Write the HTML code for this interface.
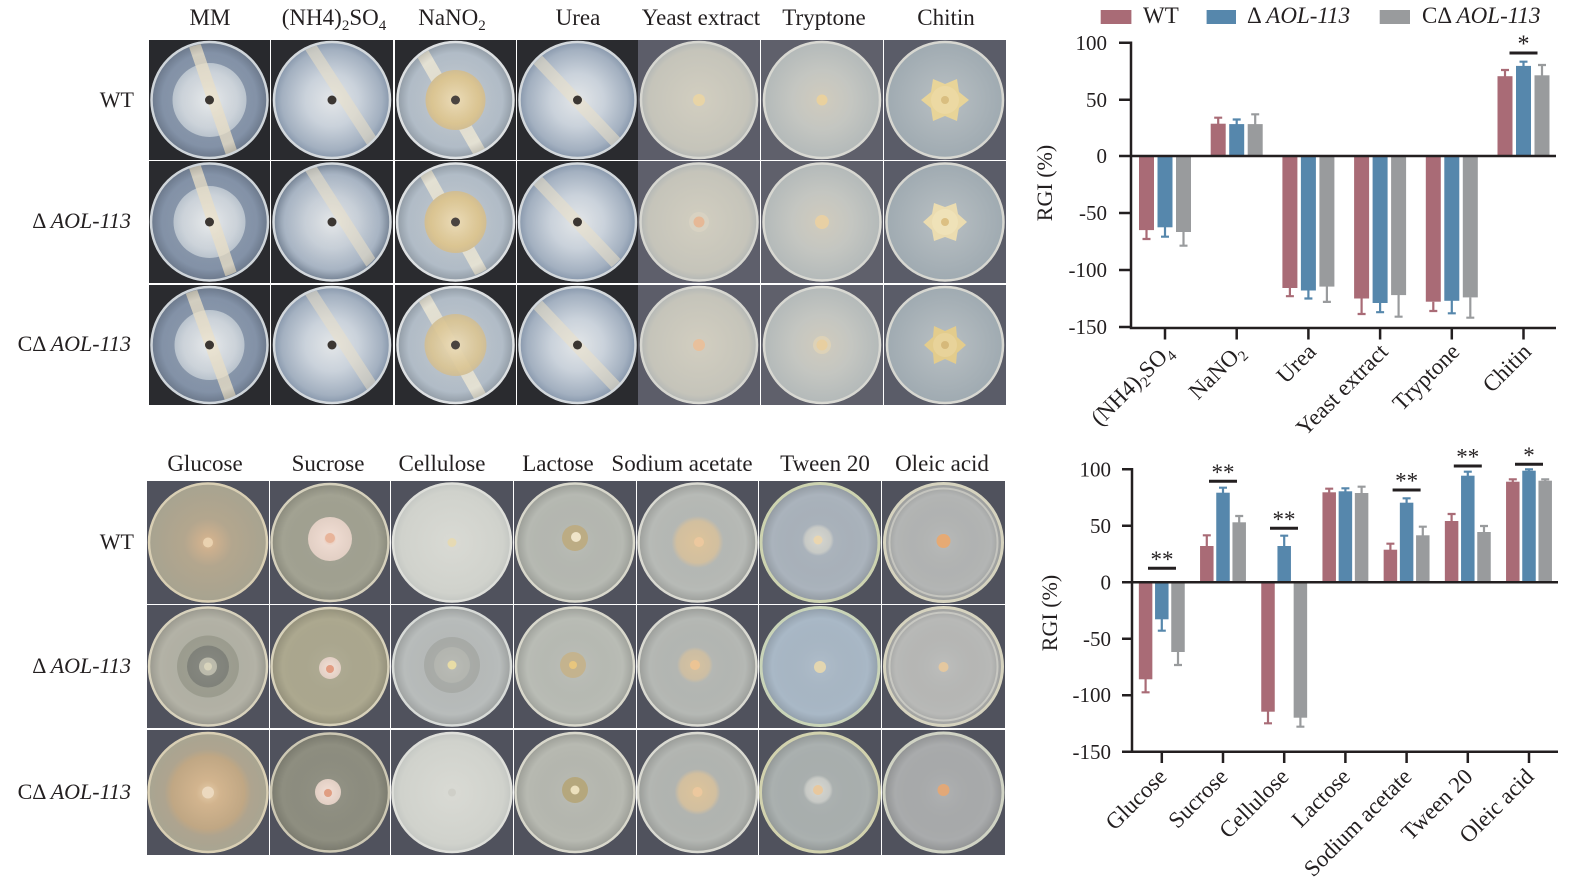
<!DOCTYPE html>
<html><head><meta charset="utf-8"><style>
html,body{margin:0;padding:0;background:#fff;}
svg{display:block;}
text{font-family:"Liberation Serif","DejaVu Serif",serif;fill:#231f20;}
</style></head><body>
<svg width="1569" height="893" viewBox="0 0 1569 893" xmlns="http://www.w3.org/2000/svg">
<defs>
<clipPath id="cp"><circle cx="60.5" cy="60.5" r="57"/></clipPath>
<radialGradient id="wcol"><stop offset="0" stop-color="#e6e9eb"/><stop offset=".75" stop-color="#cfd6dd"/><stop offset="1" stop-color="#bcc6d0"/></radialGradient>
<radialGradient id="bfull"><stop offset="0" stop-color="#e3e6e8"/><stop offset=".45" stop-color="#cad2db"/><stop offset=".85" stop-color="#a3b0c0"/><stop offset="1" stop-color="#8595aa"/></radialGradient>
<radialGradient id="mmag"><stop offset="0" stop-color="#9aa8ba"/><stop offset="1" stop-color="#7d8ca2"/></radialGradient>
<radialGradient id="naag"><stop offset="0" stop-color="#ccd3d9"/><stop offset="1" stop-color="#aab6c2"/></radialGradient>
<radialGradient id="nacol"><stop offset="0" stop-color="#ead9b2"/><stop offset=".8" stop-color="#dec792"/><stop offset="1" stop-color="#d4c095"/></radialGradient>
<radialGradient id="yeast"><stop offset="0" stop-color="#d2cec0"/><stop offset=".85" stop-color="#c5c4ba"/><stop offset="1" stop-color="#b2b6b5"/></radialGradient>
<radialGradient id="tryp"><stop offset="0" stop-color="#d0cbbd"/><stop offset=".5" stop-color="#c4c6c1"/><stop offset="1" stop-color="#b3b9b9"/></radialGradient>
<radialGradient id="chag"><stop offset="0" stop-color="#b9c0c3"/><stop offset="1" stop-color="#9faab1"/></radialGradient>
<radialGradient id="vig"><stop offset="0" stop-color="#fff" stop-opacity=".08"/><stop offset=".8" stop-color="#000" stop-opacity="0"/><stop offset="1" stop-color="#000" stop-opacity=".16"/></radialGradient>
<radialGradient id="gl0"><stop offset="0" stop-color="#dcbc96"/><stop offset=".12" stop-color="#cdb08e"/><stop offset=".4" stop-color="#b3a68e"/><stop offset="1" stop-color="#a7a390"/></radialGradient>
<radialGradient id="gl2"><stop offset="0" stop-color="#e4cba8"/><stop offset=".2" stop-color="#d2b48e"/><stop offset=".6" stop-color="#c0a784"/><stop offset=".72" stop-color="#aea48f"/><stop offset="1" stop-color="#a8a592"/></radialGradient>
<radialGradient id="cel"><stop offset="0" stop-color="#d9dad4"/><stop offset=".85" stop-color="#d0d2cc"/><stop offset="1" stop-color="#c3c6c2"/></radialGradient>
<radialGradient id="soft"><stop offset="0" stop-color="#dcc39b"/><stop offset=".8" stop-color="#d2bf9f"/><stop offset="1" stop-color="#d2bf9f" stop-opacity="0"/></radialGradient>
<radialGradient id="softg"><stop offset="0" stop-color="#d6d6cf"/><stop offset=".8" stop-color="#c8cac6"/><stop offset="1" stop-color="#c8cac6" stop-opacity="0"/></radialGradient>
<radialGradient id="pink"><stop offset="0" stop-color="#e9b9a2"/><stop offset=".3" stop-color="#eddad0"/><stop offset="1" stop-color="#e2cfc4"/></radialGradient>
</defs>

<!-- ===== Headers top ===== -->
<g font-size="23" text-anchor="middle">
<text x="210" y="25">MM</text>
<text x="334" y="25">(NH4)<tspan font-size="15" dy="5">2</tspan><tspan dy="-5">SO</tspan><tspan font-size="15" dy="5">4</tspan></text>
<text x="452" y="25">NaNO<tspan font-size="15" dy="5">2</tspan></text>
<text x="578" y="25">Urea</text>
<text x="701" y="25">Yeast extract</text>
<text x="824" y="25">Tryptone</text>
<text x="946" y="25">Chitin</text>
<text x="205" y="471">Glucose</text>
<text x="328" y="471">Sucrose</text>
<text x="442" y="471">Cellulose</text>
<text x="558" y="471">Lactose</text>
<text x="682" y="471">Sodium acetate</text>
<text x="825" y="471">Tween 20</text>
<text x="942" y="471">Oleic acid</text>
</g>
<g font-size="22" text-anchor="end">
<text x="134" y="107">WT</text>
<text x="131" y="228">Δ <tspan font-style="italic">AOL-113</tspan></text>
<text x="131" y="351">CΔ <tspan font-style="italic">AOL-113</tspan></text>
<text x="134" y="549">WT</text>
<text x="131" y="673">Δ <tspan font-style="italic">AOL-113</tspan></text>
<text x="131" y="799">CΔ <tspan font-style="italic">AOL-113</tspan></text>
</g>

<!-- ===== Top grid ===== -->
<g transform="translate(149,40)"><rect width="121" height="120" fill="#28292d"/><circle cx="60.5" cy="60" r="59" fill="url(#mmag)"/><circle cx="60.5" cy="60" r="37" fill="url(#wcol)"/><line x1="44" y1="0" x2="85" y2="120" stroke="#ece2c8" stroke-width="12" opacity=".75" clip-path="url(#cp)"/><circle cx="60.5" cy="60" r="59" fill="url(#vig)"/><circle cx="60.5" cy="60" r="58" fill="none" stroke="#cfd5da" stroke-width="2.5"/><circle cx="60.5" cy="60" r="4.5" fill="#3b3632"/></g>
<g transform="translate(149,161)"><rect width="121" height="122" fill="#2a2b2f"/><circle cx="60.5" cy="61" r="59.5" fill="url(#mmag)"/><circle cx="60.5" cy="61" r="36" fill="url(#wcol)"/><line x1="44" y1="0" x2="85" y2="122" stroke="#ece2c8" stroke-width="12" opacity=".75" clip-path="url(#cp)"/><circle cx="60.5" cy="61" r="59.5" fill="url(#vig)"/><circle cx="60.5" cy="61" r="58.5" fill="none" stroke="#cfd5da" stroke-width="2.5"/><circle cx="60.5" cy="61" r="4.5" fill="#3b3632"/></g>
<g transform="translate(149,285)"><rect width="121" height="120" fill="#2a2b2f"/><circle cx="60.5" cy="60" r="59" fill="url(#mmag)"/><circle cx="60.5" cy="60" r="35" fill="url(#wcol)"/><line x1="40" y1="0" x2="84" y2="120" stroke="#ece2c8" stroke-width="12" opacity=".75" clip-path="url(#cp)"/><circle cx="60.5" cy="60" r="59" fill="url(#vig)"/><circle cx="60.5" cy="60" r="58" fill="none" stroke="#cfd5da" stroke-width="2.5"/><circle cx="60.5" cy="60" r="4.5" fill="#3b3632"/></g>
<g transform="translate(271,40)"><rect width="122" height="120" fill="#2a2b2f"/><circle cx="61" cy="60" r="59" fill="url(#bfull)"/><line x1="35" y1="0" x2="113" y2="120" stroke="#ebe0c6" stroke-width="12" opacity=".55" clip-path="url(#cp)"/><circle cx="61" cy="60" r="58" fill="none" stroke="#d3d8dc" stroke-width="2.5"/><circle cx="61" cy="60" r="4.5" fill="#3b3632"/></g>
<g transform="translate(271,161)"><rect width="122" height="122" fill="#2a2b2f"/><circle cx="61" cy="61" r="59.5" fill="url(#bfull)"/><circle cx="61" cy="61" r="59.5" fill="url(#vig)"/><line x1="35" y1="0" x2="113" y2="122" stroke="#ebe0c6" stroke-width="12" opacity=".55" clip-path="url(#cp)"/><circle cx="61" cy="61" r="58.5" fill="none" stroke="#d3d8dc" stroke-width="2.5"/><circle cx="61" cy="61" r="4.5" fill="#3b3632"/></g>
<g transform="translate(271,285)"><rect width="122" height="120" fill="#2a2b2f"/><circle cx="61" cy="60" r="59" fill="url(#bfull)"/><line x1="35" y1="0" x2="113" y2="120" stroke="#ebe0c6" stroke-width="12" opacity=".5" clip-path="url(#cp)"/><circle cx="61" cy="60" r="58" fill="none" stroke="#d3d8dc" stroke-width="2.5"/><circle cx="61" cy="60" r="4.5" fill="#3b3632"/></g>
<g transform="translate(395,40)"><rect width="121" height="120" fill="#2a2b2f"/><circle cx="60.5" cy="60" r="59" fill="url(#naag)"/><line x1="20" y1="0" x2="89" y2="120" stroke="#f1ead6" stroke-width="13" opacity=".8" clip-path="url(#cp)"/><circle cx="60.5" cy="60" r="30" fill="url(#nacol)"/><circle cx="60.5" cy="60" r="59" fill="url(#vig)"/><circle cx="60.5" cy="60" r="58" fill="none" stroke="#dde0e2" stroke-width="2.5"/><circle cx="60.5" cy="60" r="4.5" fill="#4a4440"/></g>
<g transform="translate(395,161)"><rect width="121" height="122" fill="#2a2b2f"/><circle cx="60.5" cy="61" r="59.5" fill="url(#naag)"/><line x1="24" y1="0" x2="92" y2="122" stroke="#f1ead6" stroke-width="13" opacity=".8" clip-path="url(#cp)"/><circle cx="60.5" cy="61" r="31" fill="url(#nacol)"/><circle cx="60.5" cy="61" r="59.5" fill="url(#vig)"/><circle cx="60.5" cy="61" r="58.5" fill="none" stroke="#dde0e2" stroke-width="2.5"/><circle cx="60.5" cy="61" r="4.5" fill="#4a4440"/></g>
<g transform="translate(395,285)"><rect width="121" height="120" fill="#2a2b2f"/><circle cx="60.5" cy="60" r="59" fill="url(#naag)"/><line x1="22" y1="0" x2="90" y2="120" stroke="#f1ead6" stroke-width="13" opacity=".8" clip-path="url(#cp)"/><circle cx="60.5" cy="60" r="31" fill="url(#nacol)" opacity=".9"/><circle cx="60.5" cy="60" r="59" fill="url(#vig)"/><circle cx="60.5" cy="60" r="58" fill="none" stroke="#dde0e2" stroke-width="2.5"/><circle cx="60.5" cy="60" r="4.5" fill="#4a4440"/></g>
<g transform="translate(517,40)"><rect width="121" height="120" fill="#2a2b2f"/><circle cx="60.5" cy="60" r="59" fill="url(#bfull)"/><line x1="2" y1="0" x2="116" y2="120" stroke="#ebe0c6" stroke-width="12" opacity=".55" clip-path="url(#cp)"/><circle cx="60.5" cy="60" r="58" fill="none" stroke="#d3d8dc" stroke-width="2.5"/><circle cx="60.5" cy="60" r="4.5" fill="#3b3632"/></g>
<g transform="translate(517,161)"><rect width="121" height="122" fill="#2a2b2f"/><circle cx="60.5" cy="61" r="59.5" fill="url(#bfull)"/><line x1="2" y1="0" x2="118" y2="122" stroke="#ebe0c6" stroke-width="12" opacity=".55" clip-path="url(#cp)"/><circle cx="60.5" cy="61" r="58.5" fill="none" stroke="#d3d8dc" stroke-width="2.5"/><circle cx="60.5" cy="61" r="4.5" fill="#3b3632"/></g>
<g transform="translate(517,285)"><rect width="121" height="120" fill="#2a2b2f"/><circle cx="60.5" cy="60" r="59" fill="url(#bfull)"/><line x1="2" y1="0" x2="116" y2="120" stroke="#ebe0c6" stroke-width="12" opacity=".55" clip-path="url(#cp)"/><circle cx="60.5" cy="60" r="58" fill="none" stroke="#d3d8dc" stroke-width="2.5"/><circle cx="60.5" cy="60" r="4.5" fill="#3b3632"/></g>
<g transform="translate(638,40)"><rect width="122" height="120" fill="#5c5d69"/><circle cx="61" cy="60" r="59" fill="url(#yeast)"/><circle cx="61" cy="60" r="58" fill="none" stroke="#d6d6d0" stroke-width="2.5"/><circle cx="61" cy="60" r="6" fill="#e8d4a6"/></g>
<g transform="translate(638,161)"><rect width="122" height="122" fill="#5e5f6b"/><circle cx="61" cy="61" r="59.5" fill="url(#yeast)"/><circle cx="61" cy="61" r="10" fill="#d8d2c2"/><circle cx="61" cy="61" r="58.5" fill="none" stroke="#d6d6d0" stroke-width="2.5"/><circle cx="61" cy="61" r="5.5" fill="#e6b896"/></g>
<g transform="translate(638,285)"><rect width="122" height="120" fill="#5c5d69"/><circle cx="61" cy="60" r="59" fill="url(#yeast)"/><circle cx="61" cy="60" r="58" fill="none" stroke="#d6d6d0" stroke-width="2.5"/><circle cx="61" cy="60" r="6" fill="#e8c09c"/></g>
<g transform="translate(761,40)"><rect width="122" height="120" fill="#5f606b"/><circle cx="61" cy="60" r="59" fill="url(#tryp)"/><circle cx="61" cy="60" r="58" fill="none" stroke="#d8d8d2" stroke-width="2.5"/><circle cx="61" cy="60" r="5.5" fill="#e9d19e"/></g>
<g transform="translate(761,161)"><rect width="122" height="122" fill="#5f606b"/><circle cx="61" cy="61" r="59.5" fill="url(#tryp)"/><circle cx="61" cy="61" r="58.5" fill="none" stroke="#d8d8d2" stroke-width="2.5"/><circle cx="61" cy="61" r="7" fill="#e8d0a4"/></g>
<g transform="translate(761,285)"><rect width="122" height="120" fill="#5f606b"/><circle cx="61" cy="60" r="59" fill="url(#tryp)"/><circle cx="61" cy="60" r="9" fill="#ddd2b8"/><circle cx="61" cy="60" r="58" fill="none" stroke="#d8d8d2" stroke-width="2.5"/><circle cx="61" cy="60" r="5.5" fill="#e8cfa0"/></g>
<g transform="translate(884,40)"><rect width="122" height="120" fill="#5a5c68"/><circle cx="61" cy="60" r="59" fill="url(#chag)"/><polygon transform="translate(61,60)" points="24,0 14,8 12,21 0,16 -12,21 -14,8 -24,0 -14,-8 -12,-21 0,-16 12,-21 14,-8" fill="#e8d498"/><circle cx="61" cy="60" r="14" fill="#ecd9a3"/><circle cx="61" cy="60" r="58" fill="none" stroke="#d7d7d1" stroke-width="2.5"/><circle cx="61" cy="60" r="4" fill="#d9be80"/></g>
<g transform="translate(884,161)"><rect width="122" height="122" fill="#5a5c68"/><circle cx="61" cy="61" r="59.5" fill="url(#chag)"/><polygon transform="translate(61,61)" points="22,0 13,8 11,19 0,15 -11,19 -13,8 -22,0 -13,-8 -11,-19 0,-15 11,-19 13,-8" fill="#ebdcb0"/><circle cx="61" cy="61" r="13" fill="#efe2b8"/><circle cx="61" cy="61" r="58.5" fill="none" stroke="#d7d7d1" stroke-width="2.5"/><circle cx="61" cy="61" r="4" fill="#dcc083"/></g>
<g transform="translate(884,285)"><rect width="122" height="120" fill="#5a5c68"/><circle cx="61" cy="60" r="59" fill="url(#chag)"/><polygon transform="translate(61,60)" points="21,0 12,8 11,19 0,14 -11,19 -12,8 -21,0 -12,-8 -11,-19 0,-14 11,-19 12,-8" fill="#e3cc8c"/><circle cx="61" cy="60" r="12" fill="#e8d39a"/><circle cx="61" cy="60" r="58" fill="none" stroke="#d7d7d1" stroke-width="2.5"/><circle cx="61" cy="60" r="4" fill="#d6b97a"/></g>

<!-- ===== Bottom grid ===== -->
<g transform="translate(147,481)"><rect width="122" height="123" fill="#50525d"/><circle cx="61" cy="61.5" r="60" fill="url(#gl0)"/><circle cx="61" cy="61.5" r="59" fill="none" stroke="#d9cfb4" stroke-width="2.5"/><circle cx="61" cy="61.5" r="5" fill="#ead2b0"/></g>
<g transform="translate(147,605)"><rect width="122" height="123" fill="#50525d"/><circle cx="61" cy="61.5" r="60" fill="#b3b2a6"/><circle cx="61" cy="61.5" r="31" fill="#9d9e90"/><circle cx="61" cy="61.5" r="21" fill="#7f8179"/><circle cx="61" cy="61.5" r="9" fill="#b9b8a8"/><circle cx="61" cy="61.5" r="60" fill="url(#vig)"/><circle cx="61" cy="61.5" r="59" fill="none" stroke="#d8d2bd" stroke-width="2.5"/><circle cx="61" cy="61.5" r="4" fill="#d8d4bc"/></g>
<g transform="translate(147,730)"><rect width="122" height="125" fill="#50525d"/><circle cx="61" cy="62.5" r="60.5" fill="url(#gl2)"/><circle cx="61" cy="62.5" r="59.5" fill="none" stroke="#d9cfb4" stroke-width="2.5"/><circle cx="61" cy="62.5" r="6" fill="#ecd9bf"/></g>
<g transform="translate(270,481)"><rect width="120" height="123" fill="#50525d"/><circle cx="60" cy="61.5" r="59.5" fill="#a2a292"/><circle cx="60" cy="61.5" r="59.5" fill="url(#vig)"/><circle cx="60" cy="58" r="22" fill="url(#pink)"/><circle cx="60" cy="61.5" r="58.5" fill="none" stroke="#d6d1bd" stroke-width="2.5"/><circle cx="60" cy="57" r="5" fill="#e8b49a"/></g>
<g transform="translate(270,605)"><rect width="120" height="123" fill="#50525d"/><circle cx="60" cy="61.5" r="59.5" fill="#aca88f"/><circle cx="60" cy="61.5" r="59.5" fill="url(#vig)"/><circle cx="60" cy="63" r="11" fill="url(#pink)"/><circle cx="60" cy="61.5" r="58.5" fill="none" stroke="#d8d2bb" stroke-width="2.5"/><circle cx="60" cy="64" r="4" fill="#e29c82"/></g>
<g transform="translate(270,730)"><rect width="120" height="125" fill="#50525d"/><circle cx="60" cy="62.5" r="60" fill="#8e8e80"/><circle cx="60" cy="62.5" r="60" fill="url(#vig)"/><circle cx="58" cy="62" r="13" fill="url(#pink)"/><circle cx="60" cy="62.5" r="59" fill="none" stroke="#cdc8b4" stroke-width="2.5"/><circle cx="58" cy="63" r="4" fill="#e09e82"/></g>
<g transform="translate(391,481)"><rect width="122" height="123" fill="#50525d"/><circle cx="61" cy="61.5" r="60" fill="url(#cel)"/><circle cx="61" cy="61.5" r="59" fill="none" stroke="#dedfda" stroke-width="2.5"/><circle cx="61" cy="61.5" r="4.5" fill="#e6dab4"/></g>
<g transform="translate(391,605)"><rect width="122" height="123" fill="#50525d"/><circle cx="61" cy="61.5" r="60" fill="#b8bcbb"/><circle cx="61" cy="60" r="28" fill="#a9aca8"/><circle cx="61" cy="60" r="18" fill="#b4b6b0"/><circle cx="61" cy="61.5" r="60" fill="url(#vig)"/><circle cx="61" cy="61.5" r="59" fill="none" stroke="#d8dbd8" stroke-width="2.5"/><circle cx="61" cy="60" r="4.5" fill="#e8dca6"/></g>
<g transform="translate(391,730)"><rect width="122" height="125" fill="#50525d"/><circle cx="61" cy="62.5" r="60.5" fill="url(#cel)"/><circle cx="61" cy="62.5" r="59.5" fill="none" stroke="#dedfda" stroke-width="2.5"/><circle cx="61" cy="62.5" r="4" fill="#cfcfc8"/></g>
<g transform="translate(514,481)"><rect width="122" height="123" fill="#50525d"/><circle cx="61" cy="61.5" r="60" fill="#b6b9b2"/><circle cx="61" cy="61.5" r="60" fill="url(#vig)"/><circle cx="61" cy="57" r="13" fill="#bcac84"/><circle cx="61" cy="61.5" r="59" fill="none" stroke="#d9d8cc" stroke-width="2.5"/><circle cx="62" cy="56" r="5" fill="#efe4c8"/></g>
<g transform="translate(514,605)"><rect width="122" height="123" fill="#50525d"/><circle cx="61" cy="61.5" r="60" fill="#b9bcb5"/><circle cx="61" cy="61.5" r="60" fill="url(#vig)"/><circle cx="59" cy="60" r="13" fill="#c4b38e"/><circle cx="61" cy="61.5" r="59" fill="none" stroke="#d9d8cc" stroke-width="2.5"/><circle cx="59" cy="60" r="4" fill="#e8c67e"/></g>
<g transform="translate(514,730)"><rect width="122" height="125" fill="#50525d"/><circle cx="61" cy="62.5" r="60.5" fill="#b7b9b1"/><circle cx="61" cy="62.5" r="60.5" fill="url(#vig)"/><circle cx="61" cy="60" r="13" fill="#b5a77d"/><circle cx="61" cy="62.5" r="59.5" fill="none" stroke="#d9d8cc" stroke-width="2.5"/><circle cx="61" cy="60" r="4.5" fill="#ece0bd"/></g>
<g transform="translate(637,481)"><rect width="121" height="123" fill="#50525d"/><circle cx="60.5" cy="61.5" r="60" fill="#b7bab6"/><circle cx="60.5" cy="61.5" r="60" fill="url(#vig)"/><circle cx="60.5" cy="61" r="26" fill="url(#soft)"/><circle cx="60.5" cy="61.5" r="59" fill="none" stroke="#dadad2" stroke-width="2.5"/><circle cx="62" cy="61" r="5" fill="#ecc89e"/></g>
<g transform="translate(637,605)"><rect width="121" height="123" fill="#50525d"/><circle cx="60.5" cy="61.5" r="60" fill="#b5b8b4"/><circle cx="60.5" cy="61.5" r="60" fill="url(#vig)"/><circle cx="58" cy="60" r="18" fill="url(#soft)" opacity=".8"/><circle cx="60.5" cy="61.5" r="59" fill="none" stroke="#dadad2" stroke-width="2.5"/><circle cx="58" cy="60" r="5" fill="#ecc494"/></g>
<g transform="translate(637,730)"><rect width="121" height="125" fill="#50525d"/><circle cx="60.5" cy="62.5" r="60.5" fill="#b3b6b2"/><circle cx="60.5" cy="62.5" r="60.5" fill="url(#vig)"/><circle cx="60.5" cy="62" r="23" fill="url(#soft)"/><circle cx="60.5" cy="62.5" r="59.5" fill="none" stroke="#dadad2" stroke-width="2.5"/><circle cx="60.5" cy="62" r="5" fill="#ecc89e"/></g>
<g transform="translate(759,481)"><rect width="122" height="123" fill="#50525d"/><circle cx="61" cy="61.5" r="60" fill="#aab3bc"/><circle cx="61" cy="61.5" r="60" fill="url(#vig)"/><circle cx="59" cy="59" r="16" fill="url(#softg)"/><circle cx="61" cy="61.5" r="59" fill="none" stroke="#cdd3b0" stroke-width="3"/><circle cx="59" cy="59" r="4.5" fill="#ead6b0"/></g>
<g transform="translate(759,605)"><rect width="122" height="123" fill="#50525d"/><circle cx="61" cy="61.5" r="60" fill="#a9b8c6"/><circle cx="61" cy="61.5" r="60" fill="url(#vig)"/><circle cx="61" cy="62" r="6" fill="#e3d6b0"/><circle cx="61" cy="61.5" r="59" fill="none" stroke="#c9d4b8" stroke-width="3"/></g>
<g transform="translate(759,730)"><rect width="122" height="125" fill="#50525d"/><circle cx="61" cy="62.5" r="60.5" fill="#aab0af"/><circle cx="61" cy="62.5" r="60.5" fill="url(#vig)"/><circle cx="59" cy="60" r="15" fill="url(#softg)"/><circle cx="61" cy="62.5" r="59.5" fill="none" stroke="#d2d2ae" stroke-width="3"/><circle cx="59" cy="60" r="5" fill="#e8c89e"/></g>
<g transform="translate(882,481)"><rect width="123" height="123" fill="#50525d"/><circle cx="61.5" cy="61.5" r="60" fill="#b3b5b4"/><circle cx="61.5" cy="61.5" r="60" fill="url(#vig)"/><circle cx="61.5" cy="61.5" r="54" fill="none" stroke="#c5c5bf" stroke-width="2"/><circle cx="61.5" cy="61.5" r="59" fill="none" stroke="#d6d3bf" stroke-width="3"/><circle cx="61.5" cy="60" r="7" fill="#e6aa74"/></g>
<g transform="translate(882,605)"><rect width="123" height="123" fill="#50525d"/><circle cx="61.5" cy="61.5" r="60" fill="#b8b9b7"/><circle cx="61.5" cy="61.5" r="60" fill="url(#vig)"/><circle cx="61.5" cy="61.5" r="54" fill="none" stroke="#c8c8c2" stroke-width="2"/><circle cx="61.5" cy="61.5" r="59" fill="none" stroke="#d6d3bf" stroke-width="3"/><circle cx="61.5" cy="62" r="5" fill="#e4c8a0"/></g>
<g transform="translate(882,730)"><rect width="123" height="125" fill="#50525d"/><circle cx="61.5" cy="62.5" r="60.5" fill="#a9abac"/><circle cx="61.5" cy="62.5" r="60.5" fill="url(#vig)"/><circle cx="61.5" cy="62.5" r="59.5" fill="none" stroke="#d0d3c4" stroke-width="3"/><circle cx="61.5" cy="60" r="6" fill="#e2a878"/></g>

<!-- ===== Top chart ===== -->
<g>
<rect x="1100.7" y="10" width="30.7" height="14" fill="#a96b76"/>
<rect x="1206.6" y="10" width="29.4" height="14" fill="#5687ac"/>
<rect x="1379.7" y="10" width="30.3" height="14" fill="#999b9d"/>
<g font-size="23">
<text x="1143" y="23">WT</text>
<text x="1247" y="23">Δ <tspan font-style="italic">AOL-113</tspan></text>
<text x="1422" y="23">CΔ <tspan font-style="italic">AOL-113</tspan></text>
</g>
<g fill="#a96b76">
<rect x="1139" y="156" width="15" height="74.1"/><rect x="1210.7" y="123.7" width="15" height="32.3"/><rect x="1282.4" y="156" width="15" height="132"/><rect x="1354.1" y="156" width="15" height="142.5"/><rect x="1425.8" y="156" width="15" height="145.7"/><rect x="1497.5" y="76.2" width="15" height="79.8"/>
</g>
<g fill="#5687ac">
<rect x="1157.5" y="156" width="15" height="71.3"/><rect x="1229.2" y="124.1" width="15" height="31.9"/><rect x="1300.9" y="156" width="15" height="134.5"/><rect x="1372.6" y="156" width="15" height="147"/><rect x="1444.3" y="156" width="15" height="144.8"/><rect x="1516" y="65.9" width="15" height="90.1"/>
</g>
<g fill="#999b9d">
<rect x="1176" y="156" width="15" height="76"/><rect x="1247.7" y="124.1" width="15" height="31.9"/><rect x="1319.4" y="156" width="15" height="130.6"/><rect x="1391.1" y="156" width="15" height="139.1"/><rect x="1462.8" y="156" width="15" height="141.4"/><rect x="1534.5" y="75.3" width="15" height="80.7"/>
</g>
<g stroke="#a96b76" stroke-width="2.2" fill="none">
<path d="M1146.5 230V239M1142.5 239H1150.5M1218.2 124V117.7M1214.2 117.7H1222.2M1289.9 288V296.2M1285.9 296.2H1293.9M1361.6 298.5V314M1357.6 314H1365.6M1433.3 301.7V311M1429.3 311H1437.3M1505 76.5V70M1501 70H1509"/>
</g>
<g stroke="#5687ac" stroke-width="2.2" fill="none">
<path d="M1165 227V236.7M1161 236.7H1169M1236.7 124.5V119.5M1232.7 119.5H1240.7M1308.4 290V298.5M1304.4 298.5H1312.4M1380.1 303V312.2M1376.1 312.2H1384.1M1451.8 300.5V313.3M1447.8 313.3H1455.8M1523.5 66V61.7M1519.5 61.7H1527.5"/>
</g>
<g stroke="#999b9d" stroke-width="2.2" fill="none">
<path d="M1183.5 232V245.7M1179.5 245.7H1187.5M1255.2 124.5V114.3M1251.2 114.3H1259.2M1326.9 286.5V301.9M1322.9 301.9H1330.9M1398.6 295V316.7M1394.6 316.7H1402.6M1470.3 297.4V317.7M1466.3 317.7H1474.3M1542 75.5V65M1538 65H1546"/>
</g>
<g stroke="#231f20" stroke-width="2.5" fill="none">
<path d="M1131 41.5V329.2M1130 328H1556M1131 156H1556"/>
<path d="M1119 42.7H1131M1119 99.7H1131M1119 156H1131M1119 213H1131M1119 270H1131M1119 327H1131"/>
<path d="M1165 328V339.5M1236.7 328V339.5M1308.4 328V339.5M1380.1 328V339.5M1451.8 328V339.5M1523.5 328V339.5"/>
<path d="M1509.5 53H1537.5" stroke-width="3"/>
</g>
<text x="1523.5" y="51.5" font-size="24" text-anchor="middle">*</text>
<g font-size="21" text-anchor="end">
<text x="1107" y="50">100</text><text x="1107" y="107">50</text><text x="1107" y="163">0</text><text x="1107" y="220">-50</text><text x="1107" y="277">-100</text><text x="1107" y="334">-150</text>
</g>
<text transform="translate(1052,183) rotate(-90)" font-size="22" text-anchor="middle">RGI (%)</text>
<g font-size="23" text-anchor="end">
<text transform="translate(1174,353) rotate(-45)">(NH4)<tspan font-size="15" dy="5">2</tspan><tspan dy="-5">SO</tspan><tspan font-size="15" dy="5">4</tspan></text>
<text transform="translate(1245.7,353) rotate(-45)">NaNO<tspan font-size="15" dy="5">2</tspan></text>
<text transform="translate(1317.4,353) rotate(-45)">Urea</text>
<text transform="translate(1389.1,353) rotate(-45)">Yeast extract</text>
<text transform="translate(1460.8,353) rotate(-45)">Tryptone</text>
<text transform="translate(1532.5,353) rotate(-45)">Chitin</text>
</g>
</g>

<!-- ===== Bottom chart ===== -->
<g>
<g fill="#a96b76">
<rect x="1138.85" y="582.3" width="13.5" height="97"/><rect x="1200.05" y="546" width="13.5" height="36.3"/><rect x="1261.25" y="582.3" width="13.5" height="129.4"/><rect x="1322.45" y="492.3" width="13.5" height="90"/><rect x="1383.65" y="549.7" width="13.5" height="32.6"/><rect x="1444.85" y="521" width="13.5" height="61.3"/><rect x="1506.05" y="481.7" width="13.5" height="100.6"/>
</g>
<g fill="#5687ac">
<rect x="1155.05" y="582.3" width="13.5" height="37"/><rect x="1216.25" y="492.7" width="13.5" height="89.6"/><rect x="1277.45" y="546" width="13.5" height="36.3"/><rect x="1338.65" y="491.3" width="13.5" height="91"/><rect x="1399.85" y="502.7" width="13.5" height="79.6"/><rect x="1461.05" y="475.7" width="13.5" height="106.6"/><rect x="1522.25" y="470.7" width="13.5" height="111.6"/>
</g>
<g fill="#999b9d">
<rect x="1171.25" y="582.3" width="13.5" height="69.7"/><rect x="1232.45" y="522.3" width="13.5" height="60"/><rect x="1293.65" y="582.3" width="13.5" height="135.4"/><rect x="1354.85" y="493" width="13.5" height="89.3"/><rect x="1416.05" y="535.3" width="13.5" height="47"/><rect x="1477.25" y="532" width="13.5" height="50.3"/><rect x="1538.45" y="480.7" width="13.5" height="101.6"/>
</g>
<g stroke="#a96b76" stroke-width="2.2" fill="none">
<path d="M1145.6 679V692.3M1141.6 692.3H1149.6M1206.8 546.5V535.3M1202.8 535.3H1210.8M1268 711.5V723.3M1264 723.3H1272M1329.2 492.5V488.7M1325.2 488.7H1333.2M1390.4 550V543.7M1386.4 543.7H1394.4M1451.6 521.5V514M1447.6 514H1455.6M1512.8 482V479.3M1508.8 479.3H1516.8"/>
</g>
<g stroke="#5687ac" stroke-width="2.2" fill="none">
<path d="M1161.8 619V630.7M1157.8 630.7H1165.8M1223 493V487.7M1219 487.7H1227M1284.2 546.5V535.7M1280.2 535.7H1288.2M1345.4 491.5V488.3M1341.4 488.3H1349.4M1406.6 503V498.3M1402.6 498.3H1410.6M1467.8 476V471.7M1463.8 471.7H1471.8M1529 471V469.3M1525 469.3H1533"/>
</g>
<g stroke="#999b9d" stroke-width="2.2" fill="none">
<path d="M1178 651.5V665M1174 665H1182M1239.2 522.5V516M1235.2 516H1243.2M1300.4 717.5V726.7M1296.4 726.7H1304.4M1361.6 493.5V486.7M1357.6 486.7H1365.6M1422.8 535.5V526.7M1418.8 526.7H1426.8M1484 532.5V526M1480 526H1488M1545.2 481V479.3M1541.2 479.3H1549.2"/>
</g>
<g stroke="#231f20" stroke-width="2.5" fill="none">
<path d="M1132 468V753M1131 751.7H1558M1132 582.3H1558"/>
<path d="M1122 469.3H1132M1122 525.8H1132M1122 582.3H1132M1122 638.8H1132M1122 695.2H1132M1122 751.7H1132"/>
<path d="M1161.8 751.7V763M1223 751.7V763M1284.2 751.7V763M1345.4 751.7V763M1406.6 751.7V763M1467.8 751.7V763M1529 751.7V763"/>
<path stroke-width="3" d="M1148 568.3H1176M1209 481.3H1237M1270 528.3H1298M1392.6 490H1420.6M1453.8 466H1481.8M1515 464.3H1543"/>
</g>
<g font-size="23" text-anchor="middle">
<text x="1162" y="567">**</text>
<text x="1223" y="480">**</text>
<text x="1284" y="527">**</text>
<text x="1406.6" y="488.5">**</text>
<text x="1467.8" y="464.5">**</text>
<text x="1529" y="463">*</text>
</g>
<g font-size="21" text-anchor="end">
<text x="1111" y="476.5">100</text><text x="1111" y="533">50</text><text x="1111" y="589.5">0</text><text x="1111" y="646">-50</text><text x="1111" y="702">-100</text><text x="1111" y="759">-150</text>
</g>
<text transform="translate(1057,613) rotate(-90)" font-size="22" text-anchor="middle">RGI (%)</text>
<g font-size="23" text-anchor="end">
<text transform="translate(1168,778) rotate(-45)">Glucose</text>
<text transform="translate(1229,778) rotate(-45)">Sucrose</text>
<text transform="translate(1290,778) rotate(-45)">Cellulose</text>
<text transform="translate(1351.5,778) rotate(-45)">Lactose</text>
<text transform="translate(1413,778) rotate(-45)">Sodium acetate</text>
<text transform="translate(1474,778) rotate(-45)">Tween 20</text>
<text transform="translate(1535,778) rotate(-45)">Oleic acid</text>
</g>
</g>
</svg>
</body></html>
